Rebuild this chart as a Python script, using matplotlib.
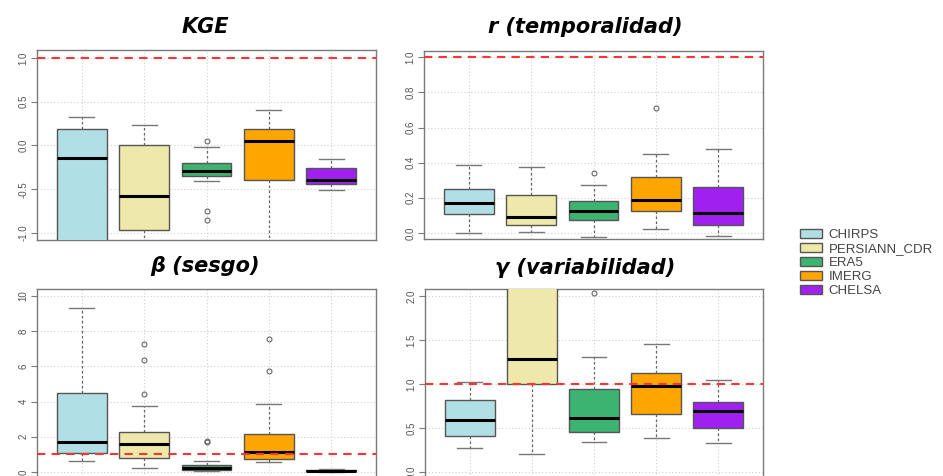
"""Boxplots de métricas KGE por producto de precipitación"""
import matplotlib
matplotlib.use('Agg')
import matplotlib.pyplot as plt
from matplotlib.patches import Patch

productos = ["CHIRPS", "PERSIANN_CDR", "ERA5", "IMERG", "CHELSA"]
colores = ["#B0E0E6", "#EEE8AA", "#3CB371", "#FFA500", "#A020F0"]

# estadísticos de cada caja: (bigote inf, Q1, mediana, Q3, bigote sup)
kge_stats = [(-1.5, -1.2, -0.14, 0.19, 0.33),
             (-1.3, -0.97, -0.58, 0.0, 0.23),
             (-0.41, -0.35, -0.29, -0.20, -0.02),
             (-1.2, -0.39, 0.05, 0.19, 0.40),
             (-0.51, -0.44, -0.40, -0.26, -0.15)]
kge_atipicos = [[], [], [0.05, -0.75, -0.85], [], []]

r_stats = [(0.0, 0.107, 0.168, 0.251, 0.385),
           (0.004, 0.046, 0.088, 0.217, 0.373),
           (-0.025, 0.076, 0.126, 0.183, 0.27),
           (0.023, 0.122, 0.187, 0.318, 0.45),
           (-0.017, 0.046, 0.112, 0.259, 0.48)]
r_atipicos = [[], [], [0.343], [0.709], []]

beta_stats = [(0.63, 1.08, 1.69, 4.46, 9.30),
              (0.23, 0.78, 1.61, 2.28, 3.74),
              (0.05, 0.09, 0.21, 0.40, 0.63),
              (0.55, 0.72, 1.14, 2.16, 3.85),
              (0.0, 0.03, 0.06, 0.10, 0.15)]
beta_atipicos = [[], [7.29, 6.38, 4.42], [1.78, 1.70], [7.55, 5.75], []]

gamma_stats = [(0.27, 0.41, 0.59, 0.82, 1.02),
               (0.205, 1.0, 1.285, 2.5, 3.5),
               (0.346, 0.45, 0.61, 0.947, 1.31),
               (0.384, 0.66, 0.98, 1.12, 1.46),
               (0.327, 0.50, 0.69, 0.79, 1.04)]
gamma_atipicos = [[], [], [2.03], [], []]

paneles = [
    ("KGE", kge_stats, kge_atipicos, (-1.08, 1.09), [-1.0, -0.5, 0.0, 0.5, 1.0], "{:.1f}"),
    ("r (temporalidad)", r_stats, r_atipicos, (-0.035, 1.036), [0.0, 0.2, 0.4, 0.6, 0.8, 1.0], "{:.1f}"),
    ("β (sesgo)", beta_stats, beta_atipicos, (-0.4, 10.4), [0, 2, 4, 6, 8, 10], "{:d}"),
    ("γ (variabilidad)", gamma_stats, gamma_atipicos, (-0.08, 2.08), [0.0, 0.5, 1.0, 1.5, 2.0], "{:.1f}"),
]
referencia = 1.0

# posiciones de los ejes en píxeles (izq, der, arriba, abajo)
W, H = 943, 476
cajas_px = [(37, 376, 50, 240), (424, 763, 51, 239),
            (37, 376, 289, 479), (425, 763, 289, 479)]
titulos_px = [(205, 27), (585, 27), (205, 266), (585, 268)]

fig = plt.figure(figsize=(W / 100, H / 100), dpi=100)
gris = "#7a7a7a"

for (titulo, stats, atip, ylim, yticks, fmt), (x0, x1, y0, y1), (tx, ty) in zip(paneles, cajas_px, titulos_px):
    ax = fig.add_axes([x0 / W, 1 - y1 / H, (x1 - x0) / W, (y1 - y0) / H])
    bxp_stats = []
    for (lo, q1, med, q3, hi), fl in zip(stats, atip):
        bxp_stats.append(dict(whislo=lo, q1=q1, med=med, q3=q3, whishi=hi, fliers=fl))
    posiciones = list(range(1, len(bxp_stats) + 1))
    arts = ax.bxp(bxp_stats, positions=posiciones, widths=0.8, capwidths=0.4,
                  patch_artist=True, zorder=3,
                  boxprops=dict(edgecolor="#555555", linewidth=1.0),
                  medianprops=dict(color="black", linewidth=2.2),
                  whiskerprops=dict(color="#666666", linewidth=0.9, linestyle=(0, (2, 2))),
                  capprops=dict(color="#777777", linewidth=1.0),
                  flierprops=dict(marker="o", markersize=3.5, markerfacecolor="none",
                                  markeredgecolor="#666666", markeredgewidth=0.8))
    for caja, c in zip(arts["boxes"], colores):
        caja.set_facecolor(c)
    ax.axhline(referencia, color="#ff3333", linewidth=1.5, linestyle=(0, (4, 3)), zorder=4)

    ax.set_xlim(0.28, 5.72)
    ax.set_ylim(*ylim)
    ax.set_xticks(posiciones)
    ax.set_xticklabels([])
    ax.tick_params(axis="x", length=0)
    ax.set_yticks(yticks)
    ax.set_yticklabels([fmt.format(v) for v in yticks], rotation=90, va="center",
                       fontsize=7, color="#555555", family="Liberation Sans")
    ax.tick_params(axis="y", length=4, width=0.8, color=gris, pad=2)
    ax.grid(True, color="#d0d0d0", linestyle=(0, (1, 2)), linewidth=0.8, zorder=0)
    ax.set_axisbelow(True)
    for s in ax.spines.values():
        s.set_color(gris)
        s.set_linewidth(1.0)
    fig.text(tx / W, 1 - ty / H, titulo, ha="center", va="center",
             fontsize=15, fontweight="bold", fontstyle="italic", color="black")

manejadores = [Patch(facecolor=c, edgecolor="#555555", linewidth=1.0) for c in colores]
fig.legend(manejadores, productos, loc="upper left", bbox_to_anchor=(793 / W, 1 - 222 / H),
           frameon=False, fontsize=9.5, handlelength=1.7, handleheight=0.75,
           labelspacing=0.12, handletextpad=0.5, borderpad=0,
           prop=dict(family="Liberation Sans", size=9.5))
for t in fig.legends[0].get_texts():
    t.set_color("#444444")

fig.savefig("out.png", dpi=100)
